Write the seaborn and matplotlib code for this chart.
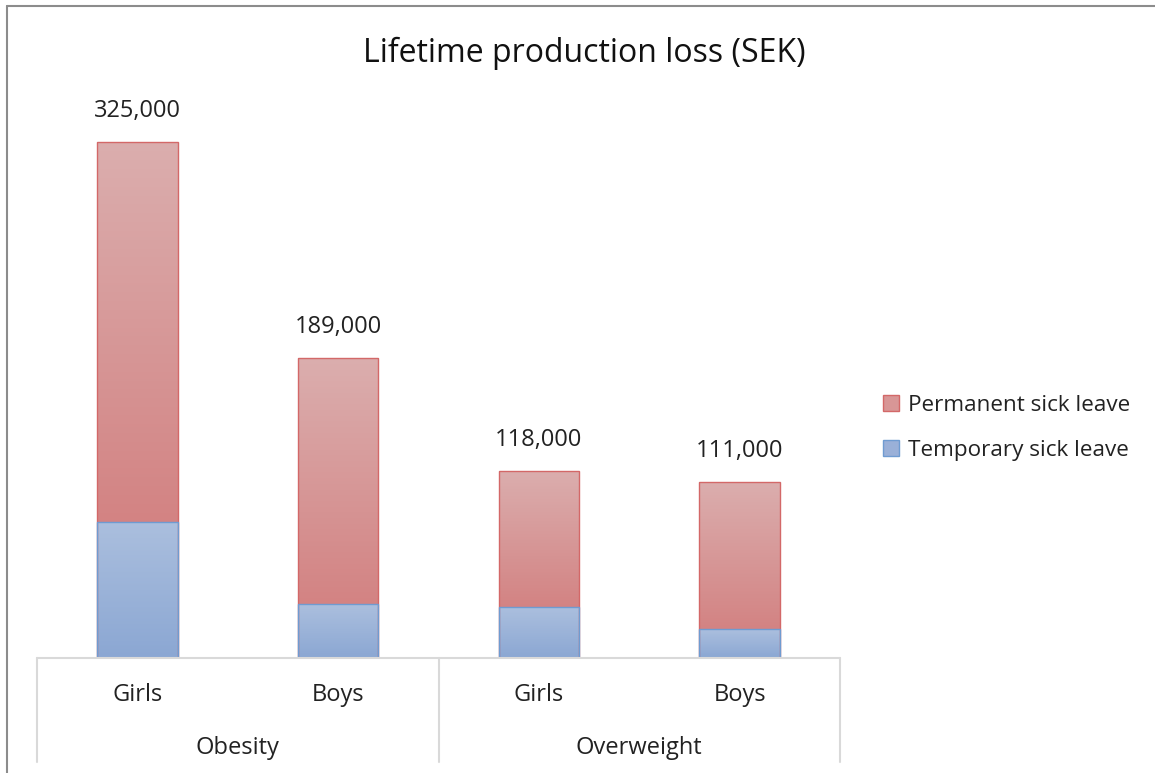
import numpy as np
import pandas as pd
import matplotlib.pyplot as plt
import seaborn as sns
from matplotlib.colors import LinearSegmentedColormap
from matplotlib.patches import Patch
from matplotlib.lines import Line2D

# chart data (SEK)
groups = ['Obesity', 'Obesity', 'Overweight', 'Overweight']
sexes = ['Girls', 'Boys', 'Girls', 'Boys']
total_loss = [325000, 189000, 118000, 111000]
temporary = [86000, 34000, 32000, 18000]
permanent = [t - s for t, s in zip(total_loss, temporary)]
group_names = ['Obesity', 'Overweight']

df = pd.DataFrame({'cat': [f'{g}-{s}' for g, s in zip(groups, sexes)],
                   'sex': sexes, 'total': total_loss, 'temp': temporary})

sns.set_style('white')
plt.rcParams['font.family'] = ['Open Sans', 'DejaVu Sans']

fig = plt.figure(figsize=(11.55, 7.73), dpi=100)
ax = fig.add_axes([37 / 1155, 115 / 773, 803 / 1155, 568 / 773])

red_edge = '#D36868'
blue_edge = '#6F9BD1'
sns.barplot(data=df, x='cat', y='total', color='#D89696', edgecolor=red_edge,
            linewidth=1, width=0.40, ax=ax, saturation=1)
n_red = len(ax.patches)
sns.barplot(data=df, x='cat', y='temp', color='#9AB0D8', edgecolor=blue_edge,
            linewidth=1, width=0.40, ax=ax, saturation=1)

red_cmap = LinearSegmentedColormap.from_list('r', ['#D38383', '#DBAEAE'])
blue_cmap = LinearSegmentedColormap.from_list('b', ['#8BA7D3', '#ABBFDE'])
grad = np.linspace(0, 1, 256).reshape(-1, 1)

ax.set_xlim(-0.5, 3.5)
ax.set_ylim(0, 358000)

# gradient fills like the spreadsheet original
for i, p in enumerate(ax.patches):
    x0, y0 = p.get_x(), p.get_y()
    w, h = p.get_width(), p.get_height()
    if i < n_red:
        # red part sits above the blue part
        y0 = temporary[i]
        h = total_loss[i] - temporary[i]
        cmap = red_cmap
    else:
        cmap = blue_cmap
    im = ax.imshow(grad, extent=[x0, x0 + w, y0, y0 + h], origin='lower',
                   aspect='auto', cmap=cmap, zorder=p.get_zorder() + 0.1)
    im.set_clip_path(p)
    p.set_facecolor('none')
    p.set_zorder(p.get_zorder() + 0.2)

ax.set_xlim(-0.5, 3.5)
ax.set_ylim(0, 358000)

# value labels
for i, v in enumerate(total_loss):
    ax.text(i, v + 31 * 358000 / 568, f'{v:,}', ha='center', va='center',
            fontsize=17, color='#222222')

for s in ax.spines.values():
    s.set_visible(False)
ax.set_yticks([])
ax.set_xticks(range(4))
ax.set_xticklabels(sexes, fontsize=17, color='#222222')
ax.tick_params(axis='x', length=0, pad=18)
ax.set_xlabel('')
ax.set_ylabel('')

# category axis box
tr = ax.get_xaxis_transform()
grid_c = '#D9D9D9'
ax.plot([-0.5, 3.5], [0, 0], color=grid_c, lw=1.5, transform=tr, clip_on=False)
for xv in [-0.5, 1.5, 3.5]:
    ax.plot([xv, xv], [0, -104 / 568], color=grid_c, lw=1.5, transform=tr, clip_on=False)
for k, g in enumerate(group_names):
    ax.text(0.5 + 2 * k, -90 / 568, g, transform=tr, ha='center', va='center',
            fontsize=17, color='#222222')

fig.text(0.506, 1 - 53 / 773, 'Lifetime production loss (SEK)', ha='center',
         va='center', fontsize=23, color='#111111')

handles = [Patch(facecolor='#D89696', edgecolor=red_edge, label='Permanent sick leave'),
           Patch(facecolor='#9AB0D8', edgecolor=blue_edge, label='Temporary sick leave')]
fig.legend(handles=handles, loc='center left', bbox_to_anchor=(863 / 1155, 1 - 428 / 773),
           frameon=False, fontsize=16.2, handlelength=0.7, handleheight=0.7,
           handletextpad=0.4, labelspacing=1.05, labelcolor='#222222')

# outer chart border (top and left visible)
fig.add_artist(Line2D([7 / 1155, 7 / 1155], [0, 1 - 6 / 773], color='#8C8C8C', lw=1.5))
fig.add_artist(Line2D([7 / 1155, 1], [1 - 6 / 773, 1 - 6 / 773], color='#8C8C8C', lw=1.5))

fig.savefig('out.png', dpi=100, facecolor='white')
